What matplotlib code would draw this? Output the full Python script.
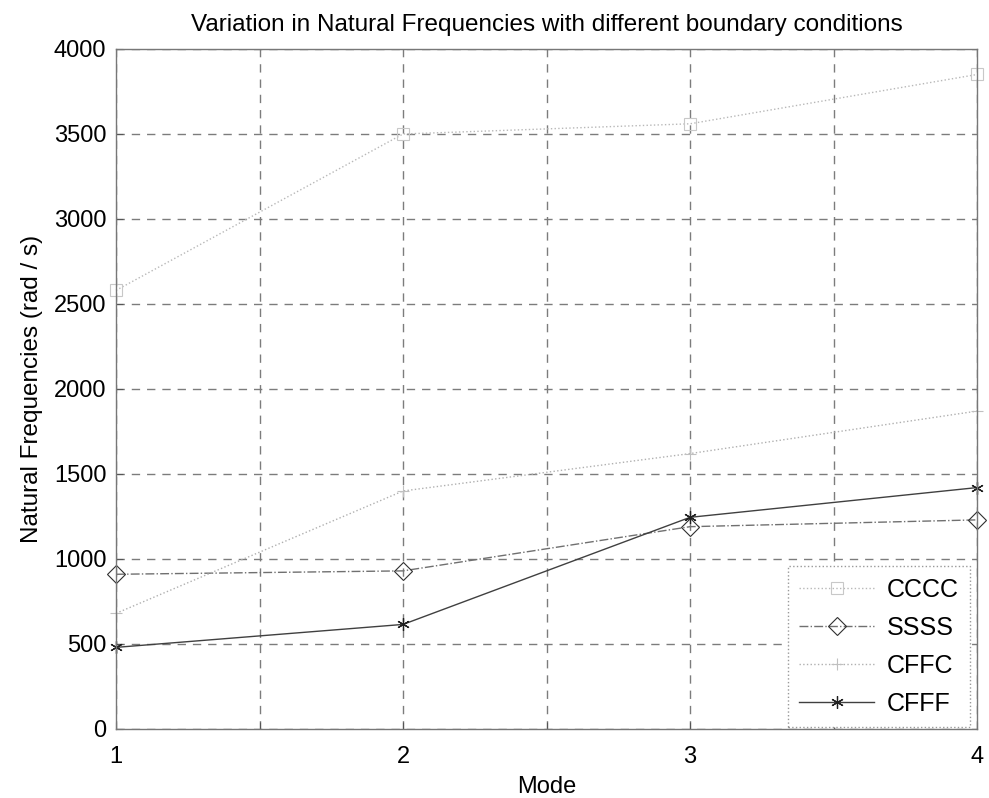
import matplotlib
matplotlib.use('Agg')
import matplotlib.pyplot as plt
import numpy as np

plt.rcParams['font.family'] = ['Liberation Sans', 'DejaVu Sans']

# natural frequencies (rad/s) for the first four modes
modes = [1, 2, 3, 4]
cccc = [2580, 3500, 3560, 3850]
ssss = [910, 930, 1190, 1230]
cffc = [680, 1400, 1620, 1870]
cfff = [480, 615, 1245, 1420]

fig = plt.figure(figsize=(9.89, 7.98), dpi=100)
ax = fig.add_axes([0.1173, 0.0865, 0.8706, 0.8521])

ax.plot(modes, cccc, linestyle=':', color='#b8b8b8', linewidth=1.0,
        marker='s', markersize=8, markerfacecolor='none',
        markeredgecolor='#c8c8c8', markeredgewidth=0.8, label='CCCC',
        clip_on=False)
ax.plot(modes, ssss, linestyle='-.', color='#707070', linewidth=1.0,
        marker='D', markersize=9, markerfacecolor='none',
        markeredgecolor='#303030', markeredgewidth=0.8, label='SSSS',
        clip_on=False)
ax.plot(modes, cffc, linestyle=':', color='#b0b0b0', linewidth=1.0,
        marker='+', markersize=9, markeredgecolor='#c0c0c0',
        markeredgewidth=0.8, label='CFFC', clip_on=False)
ax.plot(modes, cfff, linestyle='-', color='#404040', linewidth=1.0,
        marker=(6, 2, 0), markersize=9, markeredgecolor='#202020',
        markeredgewidth=0.9, label='CFFF', clip_on=False)

ax.set_xlim(1, 4)
ax.set_ylim(0, 4000)
ax.set_xticks(np.arange(1, 4.01, 0.5))
ax.set_xticklabels(['1', '', '2', '', '3', '', '4'])
ax.set_yticks(np.arange(0, 4001, 500))
ax.tick_params(direction='in', length=5, width=0.8, colors='#555555',
               labelcolor='black', labelsize=17)
ax.tick_params(axis='x', pad=12)
ax.tick_params(axis='y', pad=7)

ax.grid(True, color='#7c7c7c', linestyle=(0, (6, 5)), linewidth=1.0)
for s in ax.spines.values():
    s.set_color('#777777')
    s.set_linewidth(1.0)

ax.set_xlabel('Mode', fontsize=17, labelpad=6)
ax.set_ylabel('Natural Frequencies (rad / s)', fontsize=17.5, labelpad=8)
ax.set_title('Variation in Natural Frequencies with different boundary conditions',
             fontsize=17.5, pad=13)

leg = ax.legend(loc='lower right', bbox_to_anchor=(0.992, 0.003),
                borderaxespad=0, fontsize=18, handlelength=3.0,
                handletextpad=0.5, labelspacing=0.56, borderpad=0.45,
                fancybox=False, framealpha=1, edgecolor='#999999')
leg.get_frame().set_linestyle(':')
leg.get_frame().set_linewidth(1.0)

fig.savefig('out.png', dpi=100)
